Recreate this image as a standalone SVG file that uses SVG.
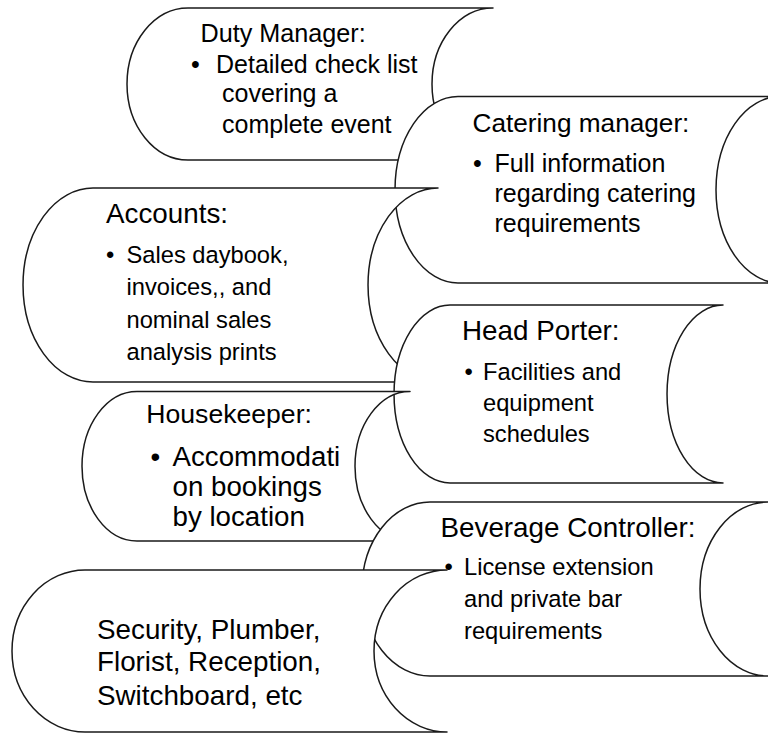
<svg xmlns="http://www.w3.org/2000/svg" width="768" height="733" viewBox="0 0 768 733">
<style>
.s{fill:#fff;stroke:#1a1a1a;stroke-width:1.5;stroke-linejoin:round}
text{font-family:"Liberation Sans",Arial,sans-serif;fill:#000}
.t28{font-size:27.8px}
.b24{font-size:23.7px}
</style>
<rect width="768" height="733" fill="#fff"/>
<g id="duty-manager">
<path class="s" d="M188,8 L493,8 A61,76 0 0 0 493,160 L188,160 A61,76 0 0 1 188,8 Z"/>
<text x="200.5" y="42" style="font-size:25.2px">Duty Manager:</text>
<text x="191" y="73" style="font-size:25px">•</text>
<text x="216" y="73" style="font-size:25px">Detailed check list</text>
<text x="222" y="102" style="font-size:25px">covering a</text>
<text x="222" y="133" style="font-size:25px">complete event</text>
</g>
<g id="catering-manager">
<path class="s" d="M458,96.5 L780,96.5 A64,93.25 0 0 0 780,283 L458,283 A63,93.25 0 0 1 458,96.5 Z"/>
<text x="472.5" y="132" style="font-size:26.2px">Catering manager:</text>
<text x="473" y="172" style="font-size:25px">•</text>
<text x="494.5" y="172" style="font-size:25px">Full information</text>
<text x="494.5" y="202" style="font-size:25px">regarding catering</text>
<text x="494.5" y="232" style="font-size:25px">requirements</text>
</g>
<g id="accounts">
<path class="s" d="M93,188 L438,188 A70,97 0 0 0 438,382 L93,382 A70,97 0 0 1 93,188 Z"/>
<text class="t28" x="106" y="222.5">Accounts:</text>
<text class="b24" x="106" y="262.5">•</text>
<text class="b24" x="126.5" y="262.5">Sales daybook,</text>
<text class="b24" x="126.5" y="295">invoices,, and</text>
<text class="b24" x="126.5" y="327.5">nominal sales</text>
<text class="b24" x="126.5" y="360">analysis prints</text>
</g>
<g id="head-porter">
<path class="s" d="M450,305 L723,305 A56,89 0 0 0 723,483 L450,483 A56,89 0 0 1 450,305 Z"/>
<text class="t28" x="462" y="339.5">Head Porter:</text>
<text class="b24" x="464.5" y="380">•</text>
<text class="b24" x="483" y="380">Facilities and</text>
<text class="b24" x="483" y="411">equipment</text>
<text class="b24" x="483" y="442">schedules</text>
</g>
<g id="housekeeper">
<path class="s" d="M137,391.5 L410,391.5 A55,74.75 0 0 0 410,541 L137,541 A55,74.75 0 0 1 137,391.5 Z"/>
<text x="146.3" y="423.3" style="font-size:26.6px">Housekeeper:</text>
<text x="150.5" y="466" style="font-size:27.7px">•</text>
<text x="172.5" y="466" style="font-size:27.7px">Accommodati</text>
<text x="172.5" y="496" style="font-size:27.7px">on bookings</text>
<text x="172.5" y="526" style="font-size:27.7px">by location</text>
</g>
<g id="beverage-controller">
<path class="s" d="M430,502 L768,502 A68,87 0 0 0 768,676 L430,676 A68,87 0 0 1 430,502 Z"/>
<text class="t28" x="440.5" y="537">Beverage Controller:</text>
<text class="b24" x="444.5" y="575">•</text>
<text class="b24" x="464" y="575">License extension</text>
<text class="b24" x="464" y="607">and private bar</text>
<text class="b24" x="464" y="638.5">requirements</text>
</g>
<g id="security-etc">
<path class="s" d="M85,570 L447,570 A73,81 0 0 0 447,732 L85,732 A73,81 0 0 1 85,570 Z"/>
<text class="t28" x="97" y="638.5">Security, Plumber,</text>
<text class="t28" x="97" y="671">Florist, Reception,</text>
<text class="t28" x="97" y="705">Switchboard, etc</text>
</g>
<g id="connectors"></g>
</svg>
